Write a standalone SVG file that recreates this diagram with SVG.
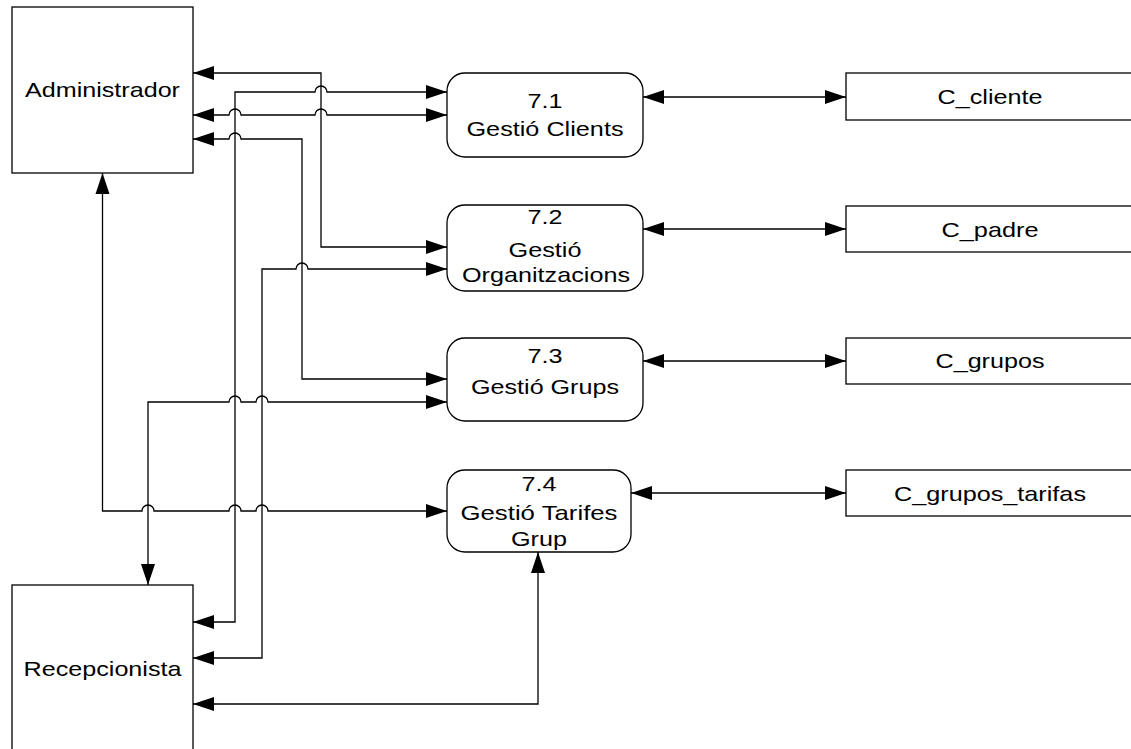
<svg xmlns="http://www.w3.org/2000/svg" width="1131" height="749" viewBox="0 0 1131 749">
<style>
.box{fill:#fff;stroke:#000;stroke-width:1.3}
.t{font-family:"Liberation Sans",Arial,sans-serif;font-size:21px;fill:#000;text-anchor:middle}
.c{fill:none;stroke:#000;stroke-width:1.3;marker-start:url(#ah);marker-end:url(#ah)}
</style>
<defs>
<marker id="ah" markerUnits="userSpaceOnUse" markerWidth="22" markerHeight="16" refX="21" refY="7" orient="auto-start-reverse" viewBox="0 0 22 14">
<path d="M0,0 L21,7 L0,14 z" fill="#000"/>
</marker>
</defs>
<rect width="1131" height="749" fill="#fff"/>
<g id="connectors">
<path class="c" d="M193,73 H321 V247 H447"/>
<path class="c" d="M193,622 H235 V92 H315 A6,6 0 0 1 327,92 H447"/>
<path class="c" d="M193,115 H229 A6,6 0 0 1 241,115 H315 A6,6 0 0 1 327,115 H447"/>
<path class="c" d="M193,139 H229 A6,6 0 0 1 241,139 H302 V379 H447"/>
<path class="c" d="M193,658 H262 V269 H296 A6,6 0 0 1 308,269 H447"/>
<path class="c" d="M148,585 V402 H229 A6,6 0 0 1 241,402 H256 A6,6 0 0 1 268,402 H447"/>
<path class="c" d="M102.5,173 V511 H142 A6,6 0 0 1 154,511 H229 A6,6 0 0 1 241,511 H256 A6,6 0 0 1 268,511 H447"/>
<path class="c" d="M538,552 V704 H193"/>
<path class="c" d="M643,97 H846"/>
<path class="c" d="M643,229 H846"/>
<path class="c" d="M643,361 H846"/>
<path class="c" d="M631,493 H846"/>
</g>
<g id="administrador">
<rect class="box" x="12" y="7" width="181" height="166"/>
<text class="t" x="102.5" y="97" textLength="155" lengthAdjust="spacingAndGlyphs">Administrador</text>
</g>
<g id="recepcionista">
<rect class="box" x="12" y="585" width="181" height="175"/>
<text class="t" x="102.5" y="676" textLength="158" lengthAdjust="spacingAndGlyphs">Recepcionista</text>
</g>
<g id="p71">
<rect class="box" x="447" y="73" width="196" height="84" rx="18"/>
<text class="t" x="545" y="108" textLength="35" lengthAdjust="spacingAndGlyphs">7.1</text>
<text class="t" x="545" y="136" textLength="157" lengthAdjust="spacingAndGlyphs">Gestió Clients</text>
</g>
<g id="p72">
<rect class="box" x="447" y="205" width="196" height="86" rx="18"/>
<text class="t" x="545" y="224" textLength="35" lengthAdjust="spacingAndGlyphs">7.2</text>
<text class="t" x="545" y="257" textLength="73" lengthAdjust="spacingAndGlyphs">Gestió</text>
<text class="t" x="546" y="282" textLength="168" lengthAdjust="spacingAndGlyphs">Organitzacions</text>
</g>
<g id="p73">
<rect class="box" x="447" y="338" width="196" height="83" rx="18"/>
<text class="t" x="545" y="363" textLength="35" lengthAdjust="spacingAndGlyphs">7.3</text>
<text class="t" x="545" y="394" textLength="148" lengthAdjust="spacingAndGlyphs">Gestió Grups</text>
</g>
<g id="p74">
<rect class="box" x="447" y="470" width="184" height="82" rx="18"/>
<text class="t" x="539" y="491" textLength="35" lengthAdjust="spacingAndGlyphs">7.4</text>
<text class="t" x="539" y="520" textLength="157" lengthAdjust="spacingAndGlyphs">Gestió Tarifes</text>
<text class="t" x="539" y="546" textLength="56" lengthAdjust="spacingAndGlyphs">Grup</text>
</g>
<g id="c_cliente">
<rect class="box" x="846" y="73" width="290" height="47"/>
<text class="t" x="990" y="104" textLength="105" lengthAdjust="spacingAndGlyphs">C_cliente</text>
</g>
<g id="c_padre">
<rect class="box" x="846" y="206" width="290" height="46"/>
<text class="t" x="990" y="237" textLength="97" lengthAdjust="spacingAndGlyphs">C_padre</text>
</g>
<g id="c_grupos">
<rect class="box" x="846" y="338" width="290" height="46"/>
<text class="t" x="990" y="368" textLength="109" lengthAdjust="spacingAndGlyphs">C_grupos</text>
</g>
<g id="c_grupos_tarifas">
<rect class="box" x="846" y="470" width="290" height="46"/>
<text class="t" x="990" y="501" textLength="192" lengthAdjust="spacingAndGlyphs">C_grupos_tarifas</text>
</g>
</svg>
